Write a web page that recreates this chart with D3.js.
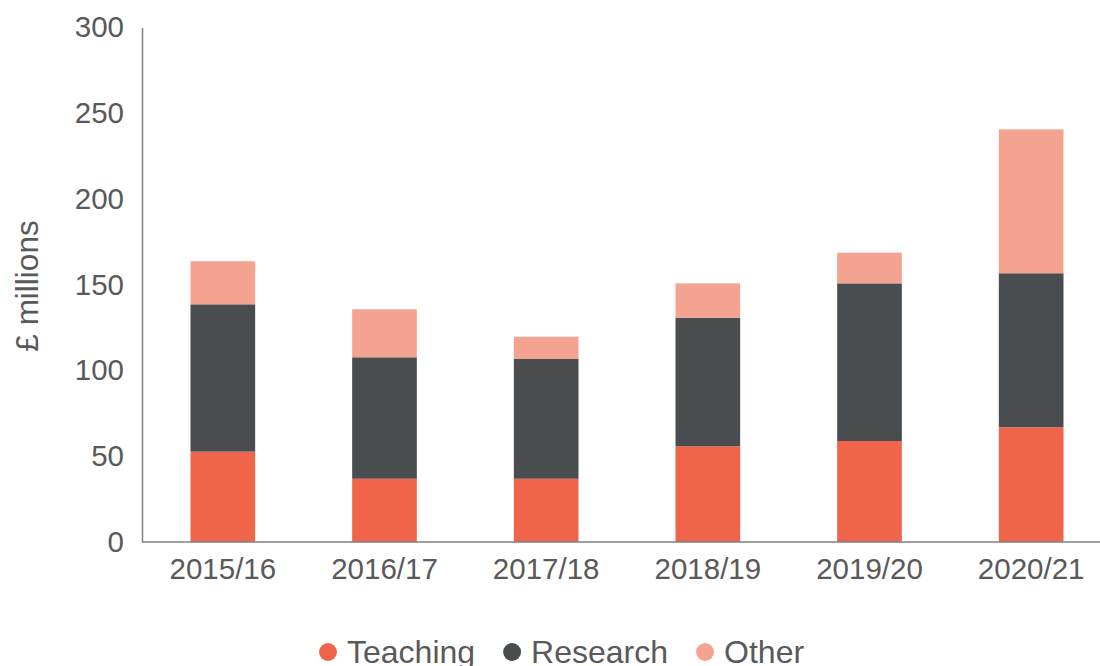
<!DOCTYPE html>
<html>
<head>
<meta charset="utf-8">
<script src="https://cdn.jsdelivr.net/npm/d3@7"></script>
<style>
  body { margin: 0; background: #fff; }
  text { font-family: "Liberation Sans", Arial, sans-serif; fill: #595959; }
</style>
</head>
<body>
<svg id="chart" width="1100" height="666"></svg>
<script>
var years = ['2015/16', '2016/17', '2017/18', '2018/19', '2019/20', '2020/21']
var teaching = [52.7, 36.9, 36.9, 55.8, 58.9, 66.9]
var research = [85.9, 70.8, 69.8, 75.0, 91.9, 89.8]
var other = [25.1, 28.0, 13.0, 20.0, 17.9, 83.9]
var seriesNames = ['Teaching', 'Research', 'Other']
var colors = ['#f06449', '#4a4d50', '#f5a391']
var yTicks = [0, 50, 100, 150, 200, 250, 300]

var svg = d3.select('#chart')
var m = {left: 142, right: 1112, top: 27.5, bottom: 542}

var rows = years.map((yr, i) => ({year: yr, Teaching: teaching[i], Research: research[i], Other: other[i]}))
var stack = d3.stack().keys(seriesNames)(rows)

var x = d3.scaleBand().domain(years).range([m.left, m.right]).paddingInner(0.6).paddingOuter(0.3)
var y = d3.scaleLinear().domain([0, 300]).range([m.bottom, m.top])

// bars
svg.append('g').selectAll('g')
  .data(stack)
  .join('g')
    .attr('fill', (d, i) => colors[i])
  .selectAll('rect')
  .data(d => d)
  .join('rect')
    .attr('x', d => x(d.data.year))
    .attr('width', x.bandwidth())
    .attr('y', d => y(d[1]))
    .attr('height', d => y(d[0]) - y(d[1]))

// y axis
var yAxis = svg.append('g')
  .attr('transform', `translate(${m.left},0)`)
  .call(d3.axisLeft(y).tickValues(yTicks).tickSize(0).tickPadding(18))
yAxis.select('.domain').attr('stroke', '#808080').attr('stroke-width', 1.5)
yAxis.selectAll('text')
  .attr('fill', '#595959')
  .style('font-size', '29.5px')
  .style('font-family', '"Liberation Sans", Arial, sans-serif')

// x axis
var xAxis = svg.append('g')
  .attr('transform', `translate(0,${m.bottom})`)
  .call(d3.axisBottom(x).tickSize(0).tickPadding(16))
xAxis.select('.domain').attr('d', `M${m.left},0H1100`).attr('stroke', '#808080').attr('stroke-width', 1.5)
xAxis.selectAll('text')
  .attr('fill', '#595959')
  .style('font-size', '29.5px')
  .style('font-family', '"Liberation Sans", Arial, sans-serif')

// y label
svg.append('text')
  .attr('transform', 'translate(38,286) rotate(-90)')
  .attr('text-anchor', 'middle')
  .style('font-size', '31.5px')
  .text('£ millions')

// legend
var lg = svg.append('g').attr('transform', 'translate(0,652)')
var lx = 319
seriesNames.forEach((name, i) => {
  lg.append('circle').attr('cx', lx + 9).attr('cy', 0).attr('r', 9).attr('fill', colors[i])
  var t = lg.append('text')
    .attr('x', lx + 28)
    .attr('y', 10.5)
    .style('font-size', '32px')
    .text(name)
  lx += 28 + t.node().getComputedTextLength() + 28
})
</script>
</body>
</html>
